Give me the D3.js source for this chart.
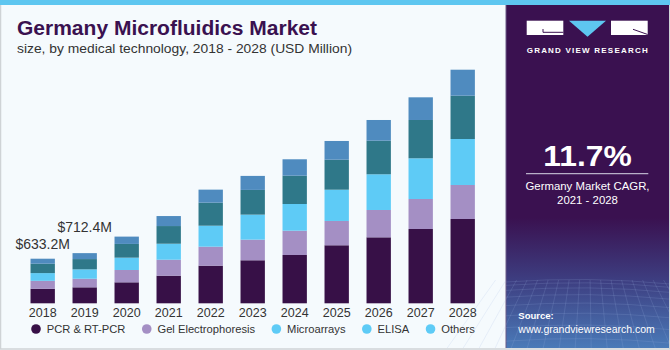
<!DOCTYPE html>
<html><head><meta charset="utf-8">
<script src="https://cdn.jsdelivr.net/npm/d3@7/dist/d3.min.js"></script>
<style>
html,body{margin:0;padding:0;background:#fff;}
svg{display:block;font-family:"Liberation Sans",Arial,sans-serif;}
</style></head>
<body><svg id="c" width="670" height="350"></svg>
<script>
const years = ["2018","2019","2020","2021","2022","2023","2024","2025","2026","2027","2028"];
const seriesNames = ["PCR & RT-PCR","Gel Electrophoresis","Microarrays","ELISA","Others"];
const pcr   = [205, 227, 298, 392, 534, 611, 686, 824, 937, 1055, 1197];
const gel   = [114, 122, 175, 227, 270, 293, 345, 345, 388, 426, 483];
const micro = [110, 133, 175, 227, 298, 355, 379, 444, 507, 578, 653];
const elisa = [133, 146, 195, 251, 327, 351, 402, 426, 477, 544, 615];
const others= [71.2, 84.4, 104, 142, 185, 199, 233, 266, 294, 322, 369];
const valueLabels = ["$633.2M","$712.4M"];
const barColors = ["#371047","#a48fc4","#5ecbf6","#2f7889","#4f8bbf"];
const legendColors = ["#371047","#a48fc4","#5ecbf6","#5ecbf6","#5ecbf6"];

const svg = d3.select("#c");
// background
svg.append("rect").attr("width",670).attr("height",350).attr("fill","#f5fafd");
svg.append("rect").attr("x",0.5).attr("y",0.5).attr("width",669).attr("height",348.5)
  .attr("fill","none").attr("stroke","#cfd3d6").attr("stroke-width",1.5);
svg.append("rect").attr("x",0).attr("y",0).attr("width",670).attr("height",5).attr("fill","#5ec6f0");

// title
svg.append("text").attr("x",17).attr("y",35).attr("font-size",19.5).attr("font-weight","bold")
  .attr("fill","#3a1150").attr("textLength",300).attr("lengthAdjust","spacingAndGlyphs")
  .text("Germany Microfluidics Market");
svg.append("text").attr("x",17).attr("y",53).attr("font-size",13.3).attr("fill","#333")
  .attr("textLength",335).attr("lengthAdjust","spacingAndGlyphs")
  .text("size, by medical technology, 2018 - 2028 (USD Million)");

// data table
const table = years.map((y,i)=>({year:y, "PCR & RT-PCR":pcr[i], "Gel Electrophoresis":gel[i],
  "Microarrays":micro[i], "ELISA":elisa[i], "Others":others[i]}));
const stack = d3.stack().keys(seriesNames)(table);

const x = d3.scaleBand().domain(years).range([21.7, 483.7]).paddingInner(0.42).paddingOuter(0.21);
const y = d3.scaleLinear().domain([0, 3550]).range([303.3, 53.3]);
const color = d3.scaleOrdinal().domain(seriesNames).range(barColors);

const g = svg.append("g");
g.selectAll("g.s").data(stack).join("g").attr("fill", d=>color(d.key))
  .selectAll("rect").data(d=>d).join("rect")
  .attr("x", d=>x(d.data.year)).attr("width", x.bandwidth())
  .attr("y", d=>y(d[1])).attr("height", d=>y(d[0])-y(d[1]));

// axis labels
const ax = svg.append("g").attr("transform","translate(0,303.3)")
  .call(d3.axisBottom(x).tickSize(0).tickPadding(4.5));
ax.select(".domain").remove();
ax.selectAll("text").attr("font-size",12.5).attr("fill","#333").attr("font-family","Liberation Sans, Arial, sans-serif");

// value labels
const totals = table.map((d,i)=>pcr[i]+gel[i]+micro[i]+elisa[i]+others[i]);
const labelOffsets = [10, 21.3];
valueLabels.forEach((t,i)=>{
  svg.append("text").attr("x", x(years[i])+x.bandwidth()/2).attr("y", y(totals[i])-labelOffsets[i])
    .attr("text-anchor","middle").attr("font-size",14).attr("fill","#333").text(t);
});

// legend
let lx = 36;
const leg = svg.append("g");
seriesNames.forEach((n,i)=>{
  leg.append("circle").attr("cx",lx).attr("cy",329).attr("r",4.8).attr("fill",legendColors[i]);
  const t = leg.append("text").attr("x",lx+10.7).attr("y",332.7).attr("font-size",11.2).attr("fill","#333").text(n);
  lx = lx + 10.7 + t.node().getComputedTextLength() + 21.3;
});

// right panel
const defs = svg.append("defs");
const grad = defs.append("linearGradient").attr("id","pg").attr("x1",0).attr("y1",0).attr("x2",0).attr("y2",1);
grad.append("stop").attr("offset","0").attr("stop-color","#3a1150");
grad.append("stop").attr("offset","0.62").attr("stop-color","#3a1150");
grad.append("stop").attr("offset","0.8").attr("stop-color","#3d3d80");
grad.append("stop").attr("offset","1").attr("stop-color","#4a7ab8");
svg.append("rect").attr("x",506).attr("y",5).attr("width",164).attr("height",343).attr("fill","url(#pg)");
svg.append("line").attr("x1",506).attr("x2",506).attr("y1",5).attr("y2",348).attr("stroke","#6a5a86").attr("stroke-width",1);
// grid mesh
const mesh = svg.append("g").attr("stroke","#9fb6e0").attr("stroke-opacity",0.25).attr("stroke-width",0.7).attr("fill","none");
for(let k=0;k<9;k++){
  const yy = 282 + k*k*0.85 + k*2.5;
  mesh.append("path").attr("d",`M506,${yy} Q588,${yy-6} 670,${yy+2}`);
}
for(let k=0;k<18;k++){
  const xx = 500 + k*10;
  mesh.append("line").attr("x1",xx+ (xx-588)*0.05).attr("y1",280).attr("x2",xx+(xx-588)*0.6).attr("y2",348);
}
svg.append("rect").attr("x",669).attr("y",5).attr("width",1).attr("height",343).attr("fill","#cfd3d6");

// logo
const logo = svg.append("g");
logo.append("rect").attr("x",526.7).attr("y",20.7).attr("width",36.6).attr("height",14.3).attr("fill","#fff");
logo.append("path").attr("d","M543,29 L543,32.3 L563.3,32.3").attr("stroke","#3a1150").attr("stroke-width",1).attr("fill","none");
logo.append("path").attr("d","M569,20.7 L606,20.7 L587.5,36.7 Z").attr("fill","#5ec6f0");
logo.append("rect").attr("x",611).attr("y",20.7).attr("width",36.7).attr("height",14.3).attr("fill","#fff");
logo.append("path").attr("d","M633,29.3 L647.7,34.5").attr("stroke","#3a1150").attr("stroke-width",1).attr("fill","none");
logo.append("text").attr("x",526.7).attr("y",53.3).attr("font-size",8).attr("font-weight","bold")
  .attr("fill","#fff").attr("textLength",121).attr("lengthAdjust","spacing").text("GRAND VIEW RESEARCH");

svg.append("text").attr("x",543.3).attr("y",166).attr("font-size",29.5)
  .attr("font-weight","bold").attr("fill","#fff").attr("textLength",88.4).attr("lengthAdjust","spacingAndGlyphs").text("11.7%");
svg.append("line").attr("x1",526).attr("x2",648.3).attr("y1",173.7).attr("y2",173.7).attr("stroke","#b8b0c8").attr("stroke-width",1.2);
svg.append("text").attr("x",587.5).attr("y",190).attr("text-anchor","middle").attr("font-size",11.4)
  .attr("fill","#fff").text("Germany Market CAGR,");
svg.append("text").attr("x",587.5).attr("y",204.3).attr("text-anchor","middle").attr("font-size",11.4)
  .attr("fill","#fff").text("2021 - 2028");
svg.append("text").attr("x",518.3).attr("y",319).attr("font-size",9.5).attr("font-weight","bold")
  .attr("fill","#fff").text("Source:");
svg.append("text").attr("x",518.3).attr("y",332.7).attr("font-size",10.5)
  .attr("fill","#fff").text("www.grandviewresearch.com");
</script></body></html>
